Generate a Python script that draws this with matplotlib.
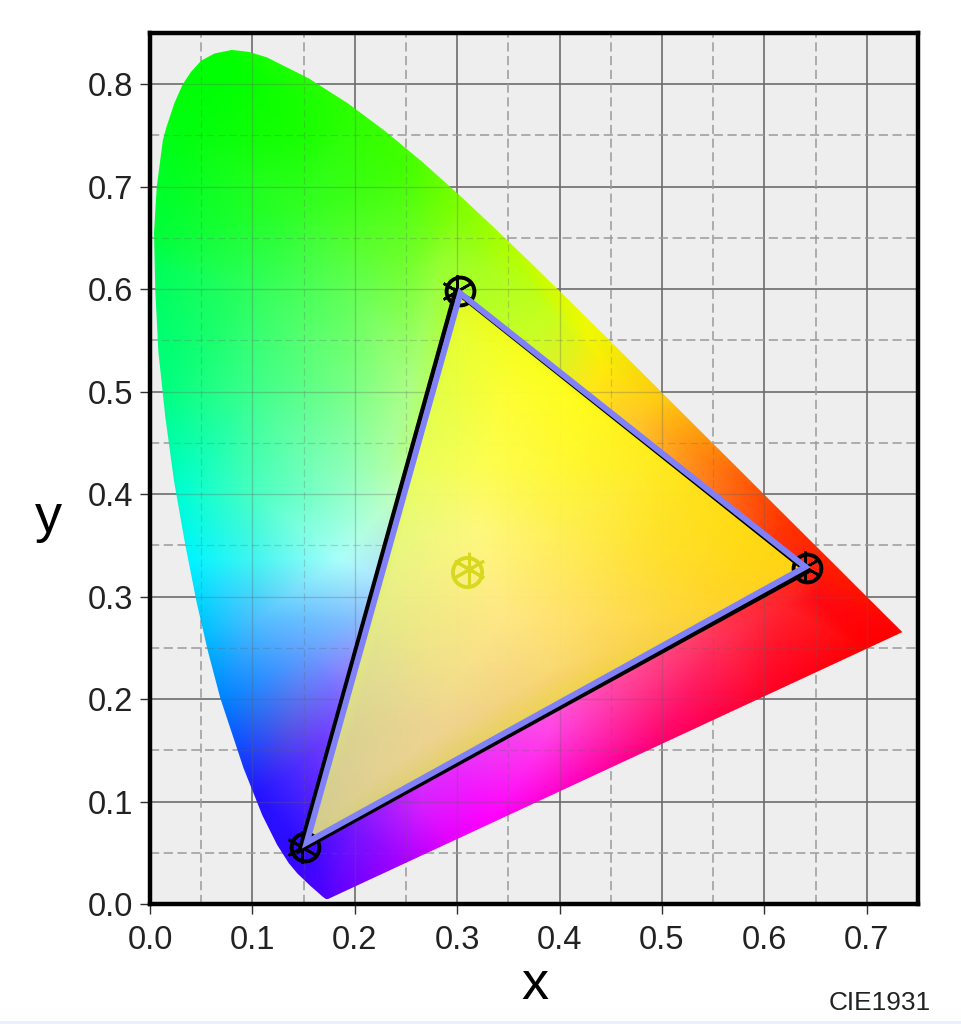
"""
CIE1931 chromaticity diagram with a display gamut triangle
"""

import numpy as np
import matplotlib
matplotlib.use('Agg')
import matplotlib.pyplot as plt
import matplotlib.tri as mtri
from matplotlib.patches import Polygon, Rectangle

plt.rcParams['font.family'] = ['Liberation Sans', 'DejaVu Sans']

# spectral locus, from the violet end round to the red end
locus_x = [0.1741, 0.1733, 0.1714, 0.1689, 0.1644, 0.1566, 0.1440, 0.1355, 0.1241, 0.1096,
           0.0913, 0.0687, 0.0566, 0.0454, 0.0340, 0.0235, 0.0150, 0.0082, 0.0052, 0.0039,
           0.0066, 0.0125, 0.0160, 0.0240, 0.0320, 0.0400, 0.0500, 0.0630, 0.0800, 0.0970, 0.1142,
           0.1547, 0.1929, 0.2296, 0.2658, 0.3016, 0.3373, 0.3731, 0.4087, 0.4441, 0.4788,
           0.5125, 0.5448, 0.5752, 0.6029, 0.6270, 0.6482, 0.6658, 0.6915, 0.7079, 0.7190,
           0.7260, 0.7320, 0.7347]
locus_y = [0.0050, 0.0048, 0.0051, 0.0069, 0.0109, 0.0177, 0.0297, 0.0399, 0.0578, 0.0868,
           0.1327, 0.2007, 0.2465, 0.2950, 0.3530, 0.4127, 0.4750, 0.5384, 0.5980, 0.6548,
           0.7000, 0.7450, 0.7580, 0.7820, 0.8000, 0.8120, 0.8230, 0.8300, 0.8335, 0.8315, 0.8262,
           0.8059, 0.7816, 0.7543, 0.7243, 0.6923, 0.6589, 0.6245, 0.5896, 0.5547, 0.5202,
           0.4866, 0.4544, 0.4242, 0.3965, 0.3725, 0.3514, 0.3340, 0.3083, 0.2920, 0.2809,
           0.2740, 0.2680, 0.2653]

base_x = [-0.05, -0.05, 0.45, 0.80, 0.80, 0.40,
          0.08, 0.03, 0.005, 0.15, 0.20, 0.25, 0.15, 0.30, 0.35, 0.33, 0.25,
          0.007, 0.098, 0.195, 0.283, 0.013, 0.098, 0.195, 0.254, 0.029, 0.098, 0.195, 0.228,
          0.394, 0.427, 0.443, 0.491, 0.524, 0.573, 0.622, 0.476, 0.66, 0.735, 0.65,
          0.186, 0.104, 0.039, 0.052, 0.104, 0.195, 0.153, 0.071, 0.179, 0.137, 0.169, 0.137,
          0.104, 0.15, 0.174, 0.202, 0.267, 0.25, 0.293, 0.332, 0.38, 0.39, 0.47, 0.50,
          0.553, 0.60, 0.618, 0.70,
          0.24, 0.22, 0.20, 0.30, 0.40, 0.50, 0.30, 0.40, 0.25]
base_y = [0.90, -0.05, -0.05, 0.20, 0.50, 0.90,
          0.82, 0.75, 0.65, 0.75, 0.77, 0.72, 0.68, 0.68, 0.64, 0.62, 0.62,
          0.62, 0.606, 0.606, 0.625, 0.499, 0.499, 0.508, 0.508, 0.40, 0.40, 0.40, 0.426,
          0.573, 0.557, 0.524, 0.492, 0.446, 0.417, 0.368, 0.475, 0.33, 0.265, 0.30,
          0.336, 0.336, 0.336, 0.264, 0.277, 0.277, 0.245, 0.199, 0.209, 0.17, 0.16, 0.128,
          0.108, 0.05, 0.005, 0.07, 0.095, 0.04, 0.063, 0.082, 0.098, 0.17, 0.21, 0.157,
          0.258, 0.20, 0.29, 0.248,
          0.40, 0.32, 0.22, 0.50, 0.45, 0.40, 0.30, 0.25, 0.20]
base_r = [0, 40, 255, 255, 255, 220,
          0, 0, 0, 25, 45, 65, 50, 125, 175, 170, 115,
          0, 45, 95, 150, 0, 60, 120, 170, 0, 70, 150, 170,
          200, 240, 255, 255, 255, 255, 255, 255, 255, 255, 255,
          170, 70, 0, 0, 80, 130, 100, 0, 120, 85, 110, 70,
          35, 50, 85, 120, 215, 170, 230, 255, 255, 255, 255, 255,
          255, 255, 255, 255,
          190, 175, 150, 200, 255, 255, 255, 255, 200]
base_g = [255, 0, 0, 0, 100, 255,
          255, 255, 255, 255, 255, 255, 255, 255, 255, 255, 255,
          255, 255, 255, 255, 255, 255, 255, 255, 255, 255, 255, 255,
          255, 250, 235, 205, 150, 100, 50, 200, 30, 0, 10,
          255, 245, 245, 190, 190, 190, 160, 130, 110, 85, 60, 40,
          20, 10, 0, 20, 30, 0, 0, 0, 0, 70, 60, 0,
          50, 0, 35, 0,
          255, 230, 120, 255, 220, 160, 200, 120, 100]
base_b = [0, 255, 255, 0, 0, 0,
          0, 15, 60, 0, 0, 0, 35, 0, 0, 30, 50,
          90, 90, 80, 50, 130, 140, 130, 130, 210, 195, 200, 170,
          30, 0, 10, 20, 20, 10, 0, 40, 0, 0, 20,
          250, 240, 255, 255, 255, 255, 255, 255, 255, 230, 255, 255,
          255, 255, 255, 255, 255, 255, 255, 255, 220, 230, 150, 110,
          90, 40, 45, 0,
          190, 255, 255, 60, 60, 60, 200, 200, 255]

# colours
inner_x = [0.302, 0.645, 0.150, 0.303, 0.361, 0.28, 0.345, 0.41, 0.257, 0.329, 0.41, 0.491, 0.54,
           0.247, 0.322, 0.41, 0.491, 0.589, 0.228, 0.345, 0.427, 0.508, 0.557,
           0.215, 0.296, 0.394, 0.459, 0.198, 0.28, 0.345, 0.173, 0.215]
inner_y = [0.600, 0.328, 0.057, 0.557, 0.54, 0.499, 0.492, 0.499, 0.426, 0.426, 0.426, 0.426, 0.404,
           0.362, 0.362, 0.362, 0.345, 0.345, 0.297, 0.28, 0.28, 0.28, 0.297,
           0.231, 0.216, 0.231, 0.248, 0.167, 0.167, 0.199, 0.10, 0.118]
inner_r = [225, 255, 215, 235, 250, 230, 255, 255, 235, 255, 255, 255, 255,
           235, 255, 255, 255, 255, 235, 255, 255, 255, 255,
           228, 245, 250, 250, 225, 240, 245, 222, 230]
inner_g = [250, 220, 215, 255, 255, 255, 255, 255, 255, 255, 250, 238, 230,
           250, 250, 242, 230, 225, 240, 235, 228, 222, 220,
           228, 228, 224, 218, 218, 218, 218, 214, 218]
inner_b = [30, 20, 130, 50, 30, 70, 55, 30, 90, 80, 50, 35, 25,
           120, 125, 80, 45, 20, 130, 130, 95, 60, 40,
           140, 135, 110, 80, 140, 140, 125, 140, 140]

# gamut triangles, green / red / blue
outline_x = [0.2985, 0.642, 0.1465]
outline_y = [0.598, 0.3245, 0.0525]
gamut_x = [0.303, 0.640, 0.153]
gamut_y = [0.596, 0.329, 0.060]

# measured primaries and white point
primary_x = [0.3027, 0.642, 0.151]
primary_y = [0.598, 0.328, 0.0556]
white_x = [0.31]
white_y = [0.324]

x_ticks = [0.0, 0.1, 0.2, 0.3, 0.4, 0.5, 0.6, 0.7]
y_ticks = [0.0, 0.1, 0.2, 0.3, 0.4, 0.5, 0.6, 0.7, 0.8]
x_minor = [0.05, 0.15, 0.25, 0.35, 0.45, 0.55, 0.65]
y_minor = [0.05, 0.15, 0.25, 0.35, 0.45, 0.55, 0.65, 0.75]


def colour_field(xx, yy, px, py, pr, pg, pb):
    # linear blend between the colours
    tri = mtri.Triangulation(px, py)
    channels = []
    for values in (pr, pg, pb):
        interp = mtri.LinearTriInterpolator(tri, np.array(values, dtype=float))
        channels.append(np.ma.filled(interp(xx, yy), 255.0))
    return np.clip(np.dstack(channels) / 255.0, 0, 1)


fig = plt.figure(figsize=(9.61, 10.24), dpi=100)
ax = fig.add_axes([150 / 961, 1 - 904 / 1024, 768 / 961, 871 / 1024])
ax.set_facecolor('#eeeeee')
ax.set_xlim(0, 0.75)
ax.set_ylim(0, 0.85)

# grid under the colours
for v in x_ticks[1:]:
    ax.axvline(v, color='#6c6c6c', lw=1.2, zorder=1)
for v in y_ticks[1:]:
    ax.axhline(v, color='#6c6c6c', lw=1.2, zorder=1)
for v in x_minor:
    ax.axvline(v, color='#9a9a9a', lw=1.1, ls=(0, (6, 3)), zorder=1)
for v in y_minor:
    ax.axhline(v, color='#9a9a9a', lw=1.1, ls=(0, (6, 3)), zorder=1)

xx, yy = np.meshgrid(np.linspace(0, 0.75, 770), np.linspace(0, 0.85, 870))
locus = Polygon(np.column_stack([locus_x, locus_y]), closed=True, transform=ax.transData,
                fc='none', ec='none')
ax.add_patch(locus)
im = ax.imshow(colour_field(xx, yy, base_x, base_y, base_r, base_g, base_b), origin='lower',
               extent=(0, 0.75, 0, 0.85), aspect='auto', interpolation='bilinear', zorder=2)
im.set_clip_path(locus)

# grid shows faintly through the colours
for v in x_ticks[1:]:
    ax.axvline(v, color='#606060', lw=1.0, alpha=0.3, zorder=3).set_clip_path(locus)
for v in y_ticks[1:]:
    ax.axhline(v, color='#606060', lw=1.0, alpha=0.3, zorder=3).set_clip_path(locus)
for v in x_minor:
    ax.axvline(v, color='#606060', lw=0.9, alpha=0.25, ls=(0, (6, 3)), zorder=3).set_clip_path(locus)
for v in y_minor:
    ax.axhline(v, color='#606060', lw=0.9, alpha=0.25, ls=(0, (6, 3)), zorder=3).set_clip_path(locus)

# the gamut itself, the grid stays just visible through it
gamut = Polygon(np.column_stack([gamut_x, gamut_y]), closed=True, transform=ax.transData,
                fc='none', ec='none')
ax.add_patch(gamut)
im2 = ax.imshow(colour_field(xx, yy, inner_x, inner_y, inner_r, inner_g, inner_b), origin='lower',
                extent=(0, 0.75, 0, 0.85), aspect='auto', interpolation='bilinear', alpha=0.96,
                zorder=4)
im2.set_clip_path(gamut)

ax.add_patch(Polygon(np.column_stack([outline_x, outline_y]), closed=True,
                     fc='none', ec='black', lw=3.4, joinstyle='miter', zorder=5))
ax.plot(primary_x, primary_y, ls='none', marker='o', ms=20, mfc='none', mec='black',
        mew=2.8, zorder=5)
ax.plot(np.array(primary_x) - 0.0025, np.array(primary_y) + 0.0005, ls='none',
        marker=(6, 2, 0), ms=23, mec='black', mew=1.9, zorder=5)
ax.add_patch(Polygon(np.column_stack([gamut_x, gamut_y]), closed=True,
                     fc='none', ec='#8080f8', lw=4.3, joinstyle='miter', zorder=6))

ax.plot(white_x, white_y, ls='none', marker='o', ms=21, mfc='none', mec='#d8d820',
        mew=2.8, zorder=7)
ax.plot([0.312], [0.3265], ls='none', marker=(6, 2, 0), ms=24, mec='#d8d820',
        mew=2.2, zorder=7)

for s in ax.spines.values():
    s.set_linewidth(3.2)
    s.set_zorder(8)

ax.set_xticks(x_ticks)
ax.set_yticks(y_ticks)
ax.set_xticklabels(['%.1f' % v for v in x_ticks])
ax.set_yticklabels(['%.1f' % v for v in y_ticks])
ax.tick_params(axis='both', length=7, width=1.0, color='#303030', labelsize=23.5,
               labelcolor='#222222')
ax.tick_params(axis='x', pad=8)
ax.tick_params(axis='y', pad=5)

fig.text(535 / 961, 1 - 985 / 1024, 'x', fontsize=39, ha='center', va='center', color='black')
fig.text(48 / 961, 1 - 518 / 1024, 'y', fontsize=39, ha='center', va='center', color='black')
fig.text(880 / 961, 1 - 1003 / 1024, 'CIE1931', fontsize=18.9, ha='center', va='center',
         color='#222222')

# pale strip along the bottom edge of the screenshot
fig.add_artist(Rectangle((0, 0), 1, 3 / 1024, transform=fig.transFigure, fc='#e8f0fb', ec='none'))

fig.savefig('out.png', dpi=100)
